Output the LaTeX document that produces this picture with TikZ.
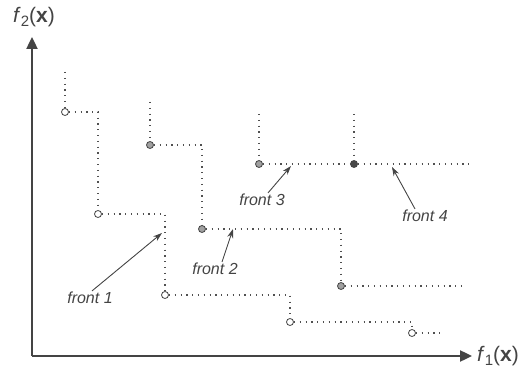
\documentclass[tikz,border=0pt]{standalone}
\usepackage{fontspec}
\setmainfont{Liberation Sans}
\usetikzlibrary{arrows.meta}
\definecolor{ink}{HTML}{444444}
\definecolor{dotink}{HTML}{505050}
\definecolor{midgray}{HTML}{A0A0A0}
\definecolor{darkdot}{HTML}{484848}
\tikzset{
  axis/.style={line width=2.4pt, draw=ink, -{Triangle[length=12pt,width=11pt]}},
  stair/.style={draw=dotink, line width=1.2pt, dash pattern=on 1.2pt off 4.6pt},
  pt/.style={circle, draw=ink, line width=0.8pt, minimum size=7pt, inner sep=0pt},
  p1/.style={pt, fill=white},
  p2/.style={pt, fill=midgray},
  p4/.style={pt, fill=darkdot},
  lab/.style={font=\itshape\fontsize{16}{18}\selectfont, text=ink, inner sep=1pt},
  pointer/.style={draw=ink, line width=0.9pt, -{Stealth[length=9pt,width=6pt]}},
  axlab/.style={font=\fontsize{21}{23}\selectfont, text=ink, inner sep=0pt}
}
\begin{document}
\begin{tikzpicture}[x=1pt,y=-1pt]
  \useasboundingbox (0,0) rectangle (523,369);

  % axes
  \coordinate (O) at (32,356);
  \coordinate (ytop) at (32,37);
  \coordinate (xend) at (472,356);
  \draw[axis] (O) -- (ytop);
  \draw[axis] (O) -- (xend);
  \node[axlab] (ylab) at (34,17) {\textit{f}\raisebox{-0.35ex}{\fontsize{15}{17}\selectfont 2}(\textbf{x})};
  \node[axlab] (xlab) at (498,356) {\textit{f}\raisebox{-0.35ex}{\fontsize{15}{17}\selectfont 1}(\textbf{x})};

  % front 1
  \node[p1] (a1) at (65,112) {};
  \node[p1] (a2) at (98,214) {};
  \node[p1] (a3) at (165,295) {};
  \node[p1] (a4) at (290,322) {};
  \node[p1] (a5) at (412,333) {};
  \coordinate (a0) at (65,72);
  \coordinate (a6) at (442,333);
  \draw[stair] (a0) -- (a1);
  \draw[stair] (a1) -| (a2);
  \draw[stair] (a2) -| (a3);
  \draw[stair] (a3) -| (a4);
  \draw[stair] (a4) -| (a5);
  \draw[stair] (a5) -- (a6);

  % front 2
  \node[p2] (b1) at (150,145) {};
  \node[p2] (b2) at (202,229) {};
  \node[p2] (b3) at (341,286) {};
  \coordinate (b0) at (150,102);
  \coordinate (b4) at (462,286);
  \draw[stair] (b0) -- (b1);
  \draw[stair] (b1) -| (b2);
  \draw[stair] (b2) -| (b3);
  \draw[stair] (b3) -- (b4);

  % fronts 3 and 4
  \node[p2] (c1) at (259,164) {};
  \node[p4] (d1) at (354,164) {};
  \coordinate (c0) at (259,114);
  \coordinate (d0) at (354,114);
  \coordinate (d2) at (470,164);
  \draw[stair] (c0) -- (c1);
  \draw[stair] (c1) -- (d1);
  \draw[stair] (d0) -- (d1);
  \draw[stair] (d1) -- (d2);

  % labels with pointers
  \node[lab] (l1) at (90,298) {front 1};
  \node[lab] (l2) at (215,269) {front 2};
  \node[lab] (l3) at (262,200) {front 3};
  \node[lab] (l4) at (425,216) {front 4};
  \coordinate (t1) at (162,233);
  \coordinate (t2) at (233,229);
  \coordinate (t3) at (291,166);
  \coordinate (t4) at (392,167);
  \draw[pointer] ([xshift=2pt]l1.north) -- (t1);
  \draw[pointer] ([xshift=7pt]l2.north) -- (t2);
  \draw[pointer] ([xshift=6pt]l3.north) -- (t3);
  \draw[pointer] ([xshift=-10pt]l4.north) -- (t4);
\end{tikzpicture}
\end{document}
